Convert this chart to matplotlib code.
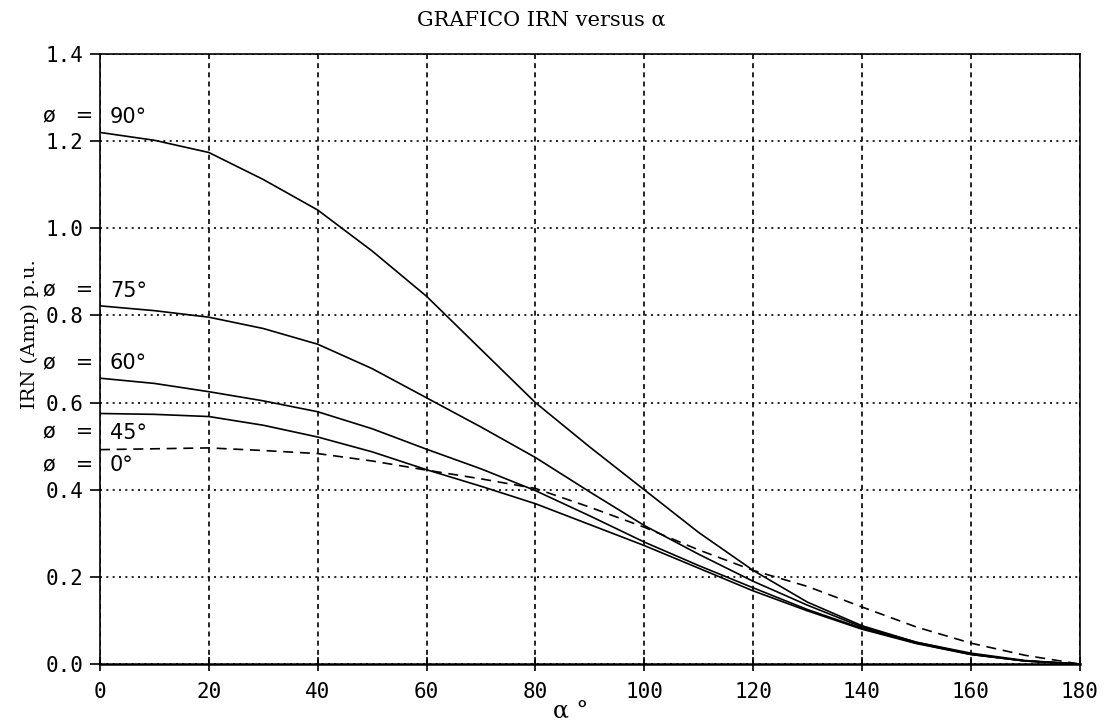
import numpy as np
import matplotlib
matplotlib.use("Agg")
import matplotlib.pyplot as plt

# alfa (grados) y corriente de neutro IRN en p.u. para cada angulo fi
alfa = [0, 10, 20, 30, 40, 50, 60, 70, 80, 90, 100, 110, 120, 130, 140, 150, 160, 170, 180]

irn_90 = [1.220, 1.202, 1.174, 1.112, 1.042, 0.948, 0.844, 0.722, 0.600, 0.498, 0.400,
          0.302, 0.215, 0.142, 0.088, 0.050, 0.025, 0.008, 0.0]
irn_75 = [0.822, 0.811, 0.796, 0.770, 0.734, 0.678, 0.611, 0.544, 0.474, 0.395, 0.318,
          0.252, 0.190, 0.135, 0.085, 0.050, 0.023, 0.007, 0.0]
irn_60 = [0.656, 0.644, 0.625, 0.604, 0.579, 0.540, 0.493, 0.448, 0.398, 0.340, 0.280,
          0.226, 0.175, 0.125, 0.082, 0.048, 0.022, 0.007, 0.0]
irn_45 = [0.575, 0.573, 0.568, 0.548, 0.521, 0.487, 0.446, 0.408, 0.368, 0.320, 0.272,
          0.220, 0.168, 0.122, 0.080, 0.047, 0.022, 0.007, 0.0]
irn_0 = [0.492, 0.494, 0.496, 0.490, 0.483, 0.466, 0.445, 0.425, 0.403, 0.360, 0.314,
         0.262, 0.215, 0.178, 0.131, 0.085, 0.048, 0.020, 0.0]

valores_fi = ["90°", "75°", "60°", "45°", "0°"]
pos_etiquetas = [1.256, 0.857, 0.691, 0.531, 0.457]

fig = plt.figure(figsize=(11.05, 7.25), dpi=100)
ax = fig.add_axes([0.0905, 0.0841, 0.8865, 0.8414])

ax.plot(alfa, irn_90, color="black", lw=1.2)
ax.plot(alfa, irn_75, color="black", lw=1.2)
ax.plot(alfa, irn_60, color="black", lw=1.2)
ax.plot(alfa, irn_45, color="black", lw=1.2)
ax.plot(alfa, irn_0, color="black", lw=1.2, linestyle=(0, (6, 4)))

ax.set_xlim(0, 180)
ax.set_ylim(0, 1.4)
ax.set_xticks(np.arange(0, 181, 20))
ax.set_yticks(np.arange(0, 1.41, 0.2))
ax.set_yticklabels(["%.1f" % v for v in np.arange(0, 1.41, 0.2)])

# rejilla: verticales a trazos, horizontales punteadas
ax.xaxis.grid(True, color="black", lw=1.2, linestyle=(0, (3, 2.5)))
ax.yaxis.grid(True, color="black", lw=1.2, linestyle=(0, (1.2, 2.6)))

for lado in ["top", "right", "left"]:
    ax.spines[lado].set_linewidth(1.2)
ax.spines["bottom"].set_linewidth(1.8)

ax.tick_params(axis="x", direction="inout", length=10, width=1.2, pad=8,
               labelsize=15)
ax.tick_params(axis="y", direction="out", length=7, width=1.2, pad=5,
               labelsize=15)
for t in ax.get_xticklabels() + ax.get_yticklabels():
    t.set_family("DejaVu Sans Mono")

# etiquetas de cada curva: "ø =" a la izquierda del eje, el angulo a la derecha
for val, y in zip(valores_fi, pos_etiquetas):
    ax.text(-1.2, y, "ø   =", fontsize=15, family="DejaVu Sans", va="center",
            ha="right", clip_on=False)
    ax.text(1.8, y, val, fontsize=15, family="DejaVu Sans", va="center",
            ha="left", clip_on=False)

fig.text(0.49, 0.972, "GRAFICO IRN versus α", fontsize=15, family="DejaVu Serif",
         ha="center", va="center")
ax.set_ylabel("IRN (Amp) p.u.", fontsize=14, family="DejaVu Serif")
ax.yaxis.set_label_coords(-0.062, 0.54)
ax.set_xlabel("α °", fontsize=17, family="DejaVu Serif")
ax.xaxis.set_label_coords(0.48, -0.06)

fig.savefig("out.png", dpi=100)
